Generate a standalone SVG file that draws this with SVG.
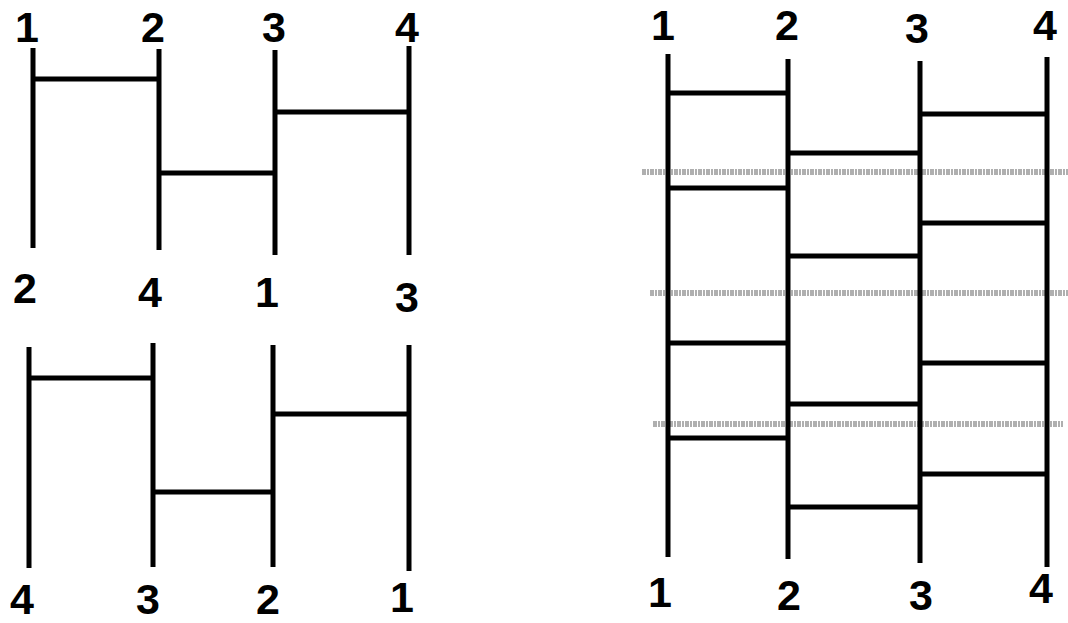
<svg xmlns="http://www.w3.org/2000/svg" width="1068" height="623" viewBox="0 0 1068 623">
<style>
.ln{stroke:#000;stroke-width:5;stroke-linecap:butt;fill:none}
.gr{stroke:#9c9c9c;stroke-width:6;stroke-dasharray:4 1 2 1;opacity:0.8}
.lb{font-family:"Liberation Sans",Arial,sans-serif;font-weight:bold;font-size:43px;fill:#000;text-anchor:middle}
</style>
<rect width="1068" height="623" fill="#fff"/>
<g id="panel-top-left">
<g id="tl-lines">
<line class="ln" x1="33" y1="48" x2="33" y2="248"/>
<line class="ln" x1="159" y1="49" x2="159" y2="250"/>
<line class="ln" x1="275" y1="50" x2="275" y2="255"/>
<line class="ln" x1="409" y1="46" x2="409" y2="255"/>
<line class="ln" x1="33" y1="79" x2="159" y2="79"/>
<line class="ln" x1="159" y1="173" x2="275" y2="173"/>
<line class="ln" x1="275" y1="112" x2="409" y2="112"/>
</g>
<g id="tl-labels">
<text class="lb" x="27" y="42">1</text>
<text class="lb" x="153" y="42">2</text>
<text class="lb" x="274" y="42">3</text>
<text class="lb" x="407" y="42">4</text>
<text class="lb" x="25" y="303">2</text>
<text class="lb" x="150" y="307">4</text>
<text class="lb" x="267" y="307">1</text>
<text class="lb" x="407" y="312">3</text>
</g>
</g>
<g id="panel-bottom-left">
<g id="bl-lines">
<line class="ln" x1="29" y1="347" x2="29" y2="568"/>
<line class="ln" x1="153" y1="343" x2="153" y2="567"/>
<line class="ln" x1="273" y1="345" x2="273" y2="567"/>
<line class="ln" x1="409" y1="345" x2="409" y2="571"/>
<line class="ln" x1="29" y1="378" x2="153" y2="378"/>
<line class="ln" x1="153" y1="492" x2="273" y2="492"/>
<line class="ln" x1="273" y1="414" x2="409" y2="414"/>
</g>
<g id="bl-labels">
<text class="lb" x="22" y="614">4</text>
<text class="lb" x="148" y="614">3</text>
<text class="lb" x="268" y="614">2</text>
<text class="lb" x="402" y="612">1</text>
</g>
</g>
<g id="panel-right">
<g id="r-gray">
<line class="gr" x1="642" y1="172" x2="1068" y2="172"/>
<line class="gr" x1="650" y1="293" x2="1068" y2="293"/>
<line class="gr" x1="653" y1="424" x2="1063" y2="424"/>
</g>
<g id="r-lines">
<line class="ln" x1="668" y1="54" x2="668" y2="557"/>
<line class="ln" x1="788" y1="59" x2="788" y2="559"/>
<line class="ln" x1="920" y1="61" x2="920" y2="563"/>
<line class="ln" x1="1047" y1="57" x2="1047" y2="567"/>
<line class="ln" x1="668" y1="93" x2="788" y2="93"/>
<line class="ln" x1="668" y1="188" x2="788" y2="188"/>
<line class="ln" x1="668" y1="343" x2="788" y2="343"/>
<line class="ln" x1="668" y1="438" x2="788" y2="438"/>
<line class="ln" x1="788" y1="153" x2="920" y2="153"/>
<line class="ln" x1="788" y1="256" x2="920" y2="256"/>
<line class="ln" x1="788" y1="404" x2="920" y2="404"/>
<line class="ln" x1="788" y1="507" x2="920" y2="507"/>
<line class="ln" x1="920" y1="114" x2="1047" y2="114"/>
<line class="ln" x1="920" y1="223" x2="1047" y2="223"/>
<line class="ln" x1="920" y1="363" x2="1047" y2="363"/>
<line class="ln" x1="920" y1="474" x2="1047" y2="474"/>
</g>
<g id="r-labels">
<text class="lb" x="663" y="40">1</text>
<text class="lb" x="787" y="40">2</text>
<text class="lb" x="917" y="43">3</text>
<text class="lb" x="1045" y="40">4</text>
<text class="lb" x="660" y="607">1</text>
<text class="lb" x="789" y="610">2</text>
<text class="lb" x="921" y="610">3</text>
<text class="lb" x="1041" y="603">4</text>
</g>
</g>
</svg>
